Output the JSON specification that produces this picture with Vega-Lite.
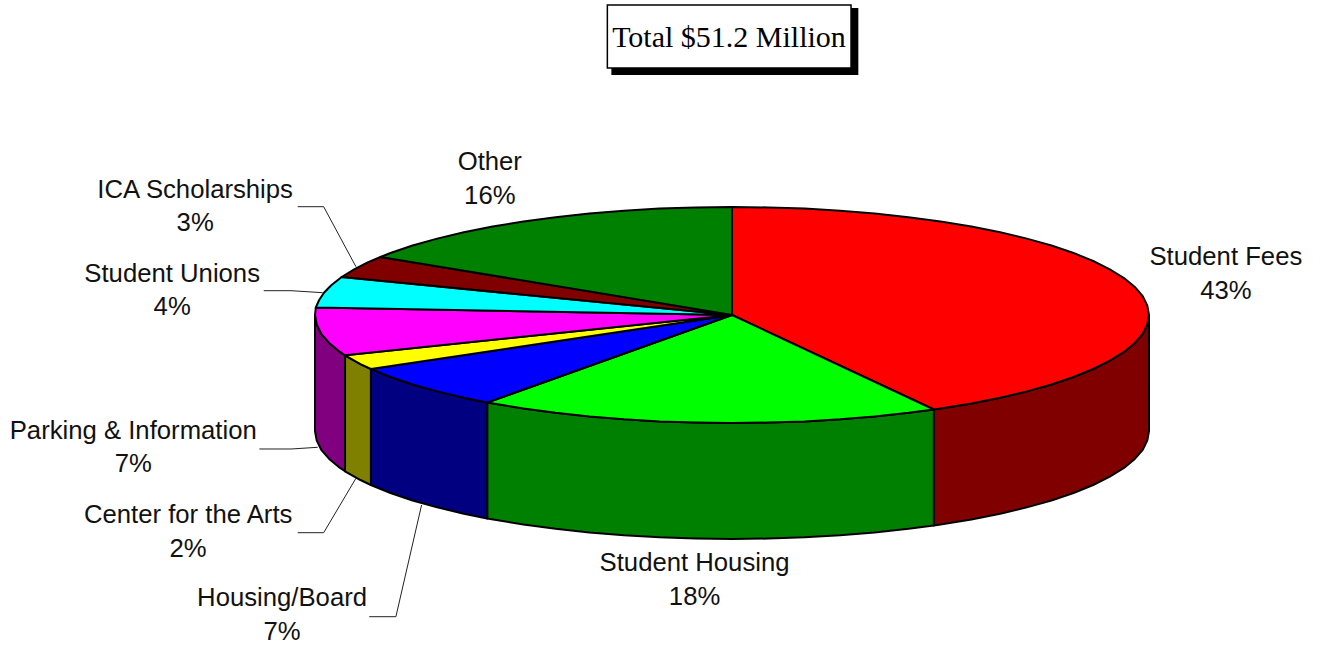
{"$schema":"https://vega.github.io/schema/vega-lite/v6.json","width":1324,"height":645,"padding":0,"autosize":{"type":"none"},"background":"white","config":{"view":{"stroke":null}},
"datasets":{
"outlines":[
{"part":"Student Fees side","x":1,"y":0},{"part":"Student Fees side","x":0.996,"y":-0.087},{"part":"Student Fees side","x":0.985,"y":-0.174},{"part":"Student Fees side","x":0.966,"y":-0.259},{"part":"Student Fees side","x":0.94,"y":-0.342},{"part":"Student Fees side","x":0.906,"y":-0.423},{"part":"Student Fees side","x":0.866,"y":-0.5},{"part":"Student Fees side","x":0.819,"y":-0.574},{"part":"Student Fees side","x":0.766,"y":-0.643},{"part":"Student Fees side","x":0.707,"y":-0.707},{"part":"Student Fees side","x":0.643,"y":-0.766},{"part":"Student Fees side","x":0.574,"y":-0.819},{"part":"Student Fees side","x":0.5,"y":-0.866},{"part":"Student Fees side","x":0.484,"y":-0.875},{"part":"Student Fees side","x":0.484,"y":-1.949},{"part":"Student Fees side","x":0.5,"y":-1.94},{"part":"Student Fees side","x":0.574,"y":-1.893},{"part":"Student Fees side","x":0.643,"y":-1.84},{"part":"Student Fees side","x":0.707,"y":-1.781},{"part":"Student Fees side","x":0.766,"y":-1.717},{"part":"Student Fees side","x":0.819,"y":-1.648},{"part":"Student Fees side","x":0.866,"y":-1.574},{"part":"Student Fees side","x":0.906,"y":-1.497},{"part":"Student Fees side","x":0.94,"y":-1.416},{"part":"Student Fees side","x":0.966,"y":-1.333},{"part":"Student Fees side","x":0.985,"y":-1.248},{"part":"Student Fees side","x":0.996,"y":-1.161},{"part":"Student Fees side","x":1,"y":-1.074},{"part":"Student Fees side","x":1,"y":0},
{"part":"Student Housing side","x":0.484,"y":-0.875},{"part":"Student Housing side","x":0.423,"y":-0.906},{"part":"Student Housing side","x":0.342,"y":-0.94},{"part":"Student Housing side","x":0.259,"y":-0.966},{"part":"Student Housing side","x":0.174,"y":-0.985},{"part":"Student Housing side","x":0.087,"y":-0.996},{"part":"Student Housing side","x":0,"y":-1},{"part":"Student Housing side","x":-0.087,"y":-0.996},{"part":"Student Housing side","x":-0.174,"y":-0.985},{"part":"Student Housing side","x":-0.259,"y":-0.966},{"part":"Student Housing side","x":-0.342,"y":-0.94},{"part":"Student Housing side","x":-0.423,"y":-0.906},{"part":"Student Housing side","x":-0.5,"y":-0.866},{"part":"Student Housing side","x":-0.587,"y":-0.811},{"part":"Student Housing side","x":-0.587,"y":-1.885},{"part":"Student Housing side","x":-0.5,"y":-1.94},{"part":"Student Housing side","x":-0.423,"y":-1.98},{"part":"Student Housing side","x":-0.342,"y":-2.014},{"part":"Student Housing side","x":-0.259,"y":-2.04},{"part":"Student Housing side","x":-0.174,"y":-2.059},{"part":"Student Housing side","x":-0.087,"y":-2.07},{"part":"Student Housing side","x":0,"y":-2.074},{"part":"Student Housing side","x":0.087,"y":-2.07},{"part":"Student Housing side","x":0.174,"y":-2.059},{"part":"Student Housing side","x":0.259,"y":-2.04},{"part":"Student Housing side","x":0.342,"y":-2.014},{"part":"Student Housing side","x":0.423,"y":-1.98},{"part":"Student Housing side","x":0.484,"y":-1.949},{"part":"Student Housing side","x":0.484,"y":-0.875},
{"part":"Housing/Board side","x":-0.587,"y":-0.811},{"part":"Housing/Board side","x":-0.643,"y":-0.766},{"part":"Housing/Board side","x":-0.707,"y":-0.707},{"part":"Housing/Board side","x":-0.766,"y":-0.643},{"part":"Housing/Board side","x":-0.819,"y":-0.574},{"part":"Housing/Board side","x":-0.866,"y":-0.5},{"part":"Housing/Board side","x":-0.866,"y":-1.574},{"part":"Housing/Board side","x":-0.819,"y":-1.648},{"part":"Housing/Board side","x":-0.766,"y":-1.717},{"part":"Housing/Board side","x":-0.707,"y":-1.781},{"part":"Housing/Board side","x":-0.643,"y":-1.84},{"part":"Housing/Board side","x":-0.587,"y":-1.885},{"part":"Housing/Board side","x":-0.587,"y":-0.811},
{"part":"Center for the Arts side","x":-0.866,"y":-0.5},{"part":"Center for the Arts side","x":-0.891,"y":-0.454},{"part":"Center for the Arts side","x":-0.928,"y":-0.373},{"part":"Center for the Arts side","x":-0.928,"y":-1.447},{"part":"Center for the Arts side","x":-0.891,"y":-1.528},{"part":"Center for the Arts side","x":-0.866,"y":-1.574},{"part":"Center for the Arts side","x":-0.866,"y":-0.5},
{"part":"Parking & Information side","x":-0.928,"y":-0.373},{"part":"Parking & Information side","x":-0.94,"y":-0.342},{"part":"Parking & Information side","x":-0.966,"y":-0.259},{"part":"Parking & Information side","x":-0.985,"y":-0.174},{"part":"Parking & Information side","x":-0.996,"y":-0.087},{"part":"Parking & Information side","x":-1,"y":0},{"part":"Parking & Information side","x":-1,"y":-1.074},{"part":"Parking & Information side","x":-0.996,"y":-1.161},{"part":"Parking & Information side","x":-0.985,"y":-1.248},{"part":"Parking & Information side","x":-0.966,"y":-1.333},{"part":"Parking & Information side","x":-0.94,"y":-1.416},{"part":"Parking & Information side","x":-0.928,"y":-1.447},{"part":"Parking & Information side","x":-0.928,"y":-0.373},
{"part":"Student Fees top","x":0,"y":0},{"part":"Student Fees top","x":0,"y":1},{"part":"Student Fees top","x":0.087,"y":0.996},{"part":"Student Fees top","x":0.174,"y":0.985},{"part":"Student Fees top","x":0.259,"y":0.966},{"part":"Student Fees top","x":0.342,"y":0.94},{"part":"Student Fees top","x":0.423,"y":0.906},{"part":"Student Fees top","x":0.5,"y":0.866},{"part":"Student Fees top","x":0.574,"y":0.819},{"part":"Student Fees top","x":0.643,"y":0.766},{"part":"Student Fees top","x":0.707,"y":0.707},{"part":"Student Fees top","x":0.766,"y":0.643},{"part":"Student Fees top","x":0.819,"y":0.574},{"part":"Student Fees top","x":0.866,"y":0.5},{"part":"Student Fees top","x":0.906,"y":0.423},{"part":"Student Fees top","x":0.94,"y":0.342},{"part":"Student Fees top","x":0.966,"y":0.259},{"part":"Student Fees top","x":0.985,"y":0.174},{"part":"Student Fees top","x":0.996,"y":0.087},{"part":"Student Fees top","x":1,"y":0},{"part":"Student Fees top","x":0.996,"y":-0.087},{"part":"Student Fees top","x":0.985,"y":-0.174},{"part":"Student Fees top","x":0.966,"y":-0.259},{"part":"Student Fees top","x":0.94,"y":-0.342},{"part":"Student Fees top","x":0.906,"y":-0.423},{"part":"Student Fees top","x":0.866,"y":-0.5},{"part":"Student Fees top","x":0.819,"y":-0.574},{"part":"Student Fees top","x":0.766,"y":-0.643},{"part":"Student Fees top","x":0.707,"y":-0.707},{"part":"Student Fees top","x":0.643,"y":-0.766},{"part":"Student Fees top","x":0.574,"y":-0.819},{"part":"Student Fees top","x":0.5,"y":-0.866},{"part":"Student Fees top","x":0.484,"y":-0.875},{"part":"Student Fees top","x":0,"y":0},
{"part":"Student Housing top","x":0,"y":0},{"part":"Student Housing top","x":0.484,"y":-0.875},{"part":"Student Housing top","x":0.423,"y":-0.906},{"part":"Student Housing top","x":0.342,"y":-0.94},{"part":"Student Housing top","x":0.259,"y":-0.966},{"part":"Student Housing top","x":0.174,"y":-0.985},{"part":"Student Housing top","x":0.087,"y":-0.996},{"part":"Student Housing top","x":0,"y":-1},{"part":"Student Housing top","x":-0.087,"y":-0.996},{"part":"Student Housing top","x":-0.174,"y":-0.985},{"part":"Student Housing top","x":-0.259,"y":-0.966},{"part":"Student Housing top","x":-0.342,"y":-0.94},{"part":"Student Housing top","x":-0.423,"y":-0.906},{"part":"Student Housing top","x":-0.5,"y":-0.866},{"part":"Student Housing top","x":-0.587,"y":-0.811},{"part":"Student Housing top","x":0,"y":0},
{"part":"Housing/Board top","x":0,"y":0},{"part":"Housing/Board top","x":-0.587,"y":-0.811},{"part":"Housing/Board top","x":-0.643,"y":-0.766},{"part":"Housing/Board top","x":-0.707,"y":-0.707},{"part":"Housing/Board top","x":-0.766,"y":-0.643},{"part":"Housing/Board top","x":-0.819,"y":-0.574},{"part":"Housing/Board top","x":-0.866,"y":-0.5},{"part":"Housing/Board top","x":0,"y":0},
{"part":"Center for the Arts top","x":0,"y":0},{"part":"Center for the Arts top","x":-0.866,"y":-0.5},{"part":"Center for the Arts top","x":-0.891,"y":-0.454},{"part":"Center for the Arts top","x":-0.928,"y":-0.373},{"part":"Center for the Arts top","x":0,"y":0},
{"part":"Parking & Information top","x":0,"y":0},{"part":"Parking & Information top","x":-0.928,"y":-0.373},{"part":"Parking & Information top","x":-0.94,"y":-0.342},{"part":"Parking & Information top","x":-0.966,"y":-0.259},{"part":"Parking & Information top","x":-0.985,"y":-0.174},{"part":"Parking & Information top","x":-0.996,"y":-0.087},{"part":"Parking & Information top","x":-1,"y":0},{"part":"Parking & Information top","x":-0.998,"y":0.07},{"part":"Parking & Information top","x":0,"y":0},
{"part":"Student Unions top","x":0,"y":0},{"part":"Student Unions top","x":-0.998,"y":0.07},{"part":"Student Unions top","x":-0.99,"y":0.139},{"part":"Student Unions top","x":-0.978,"y":0.208},{"part":"Student Unions top","x":-0.961,"y":0.276},{"part":"Student Unions top","x":-0.936,"y":0.352},{"part":"Student Unions top","x":0,"y":0},
{"part":"ICA Scholarships top","x":0,"y":0},{"part":"ICA Scholarships top","x":-0.936,"y":0.352},{"part":"ICA Scholarships top","x":-0.906,"y":0.423},{"part":"ICA Scholarships top","x":-0.875,"y":0.485},{"part":"ICA Scholarships top","x":-0.843,"y":0.537},{"part":"ICA Scholarships top","x":0,"y":0},
{"part":"Other top","x":0,"y":0},{"part":"Other top","x":-0.843,"y":0.537},{"part":"Other top","x":-0.819,"y":0.574},{"part":"Other top","x":-0.766,"y":0.643},{"part":"Other top","x":-0.707,"y":0.707},{"part":"Other top","x":-0.643,"y":0.766},{"part":"Other top","x":-0.574,"y":0.819},{"part":"Other top","x":-0.5,"y":0.866},{"part":"Other top","x":-0.423,"y":0.906},{"part":"Other top","x":-0.342,"y":0.94},{"part":"Other top","x":-0.259,"y":0.966},{"part":"Other top","x":-0.174,"y":0.985},{"part":"Other top","x":-0.087,"y":0.996},{"part":"Other top","x":0,"y":1},{"part":"Other top","x":0,"y":0}
],
"leaders":[
{"label":"ICA Scholarships","x":-1.0414,"y":1.0028},{"label":"ICA Scholarships","x":-0.9792,"y":1.0028},{"label":"ICA Scholarships","x":-0.9018,"y":0.4472},
{"label":"Student Unions","x":-1.1229,"y":0.225},{"label":"Student Unions","x":-1.0575,"y":0.225},{"label":"Student Unions","x":-0.9816,"y":0.2065},
{"label":"Parking & Information","x":-1.1334,"y":-1.2407},{"label":"Parking & Information","x":-1.0575,"y":-1.2407},{"label":"Parking & Information","x":-0.9935,"y":-1.225},
{"label":"Center for the Arts","x":-1.0414,"y":-2.0157},{"label":"Center for the Arts","x":-0.9792,"y":-2.0157},{"label":"Center for the Arts","x":-0.9018,"y":-1.512},
{"label":"Housing/Board","x":-0.8699,"y":-2.7935},{"label":"Housing/Board","x":-0.806,"y":-2.7935},{"label":"Housing/Board","x":-0.7444,"y":-1.7593}
],
"labels":[
{"label":"Student Fees","share":"43%","x":1.1868,"y":0.5463,"yShare":0.2315},
{"label":"Student Housing","share":"18%","x":-0.0874,"y":-2.287,"yShare":-2.6019},
{"label":"Housing/Board","share":"7%","x":-1.0766,"y":-2.6111,"yShare":-2.9259},
{"label":"Center for the Arts","share":"2%","x":-1.3018,"y":-1.8426,"yShare":-2.1574},
{"label":"Parking & Information","share":"7%","x":-1.4335,"y":-1.0648,"yShare":-1.3704},
{"label":"Student Unions","share":"4%","x":-1.3401,"y":0.3889,"yShare":0.0833},
{"label":"ICA Scholarships","share":"3%","x":-1.285,"y":1.1667,"yShare":0.8611},
{"label":"Other","share":"16%","x":-0.5784,"y":1.4259,"yShare":1.1111}
],
"box":[{"title":"Total $51.2 Million","x":-0.2989,"x2":0.2855,"y":2.8704,"y2":2.287,"sx":-0.2893,"sx2":0.303,"sy":2.8426,"sy2":2.2222,"cx":-0.0048,"cy":2.5556}]
},
"encoding":{
"x":{"field":"x","type":"quantitative","axis":null,"scale":{"domain":[-1.7554,1.4197],"nice":false,"zero":false}},
"y":{"field":"y","type":"quantitative","axis":null,"scale":{"domain":[-3.0556,2.9167],"nice":false,"zero":false}}
},
"layer":[
{"data":{"name":"box"},"mark":{"type":"rect","fill":"black"},"encoding":{"x":{"field":"sx","type":"quantitative"},"x2":{"field":"sx2"},"y":{"field":"sy","type":"quantitative"},"y2":{"field":"sy2"}}},
{"data":{"name":"box"},"mark":{"type":"rect","fill":"white","stroke":"black","strokeWidth":1.5},"encoding":{"x":{"field":"x","type":"quantitative"},"x2":{"field":"x2"},"y":{"field":"y","type":"quantitative"},"y2":{"field":"y2"}}},
{"data":{"name":"box"},"mark":{"type":"text","font":"Liberation Serif","fontSize":30,"align":"center","baseline":"middle","color":"black","dx":-1,"dy":-1},"encoding":{"x":{"field":"cx","type":"quantitative"},"y":{"field":"cy","type":"quantitative"},"text":{"field":"title"}}},
{"data":{"name":"leaders"},"mark":{"type":"line","stroke":"#222222","strokeWidth":1},"encoding":{"detail":{"field":"label"},"order":{"value":null}}},
{"data":{"name":"outlines"},"mark":{"type":"line","stroke":"black","strokeWidth":2,"strokeJoin":"round"},"encoding":{"detail":{"field":"part"},"order":{"value":null},
"fill":{"field":"part","type":"nominal","legend":null,"scale":{"domain":["Student Fees top","Student Housing top","Housing/Board top","Center for the Arts top","Parking & Information top","Student Unions top","ICA Scholarships top","Other top","Student Fees side","Student Housing side","Housing/Board side","Center for the Arts side","Parking & Information side"],"range":["#ff0000","#00ff00","#0000ff","#ffff00","#ff00ff","#00ffff","#800000","#008000","#800000","#008000","#000080","#808000","#800080"]}}}},
{"data":{"name":"labels"},"mark":{"type":"text","font":"Liberation Sans","fontSize":25.7,"align":"center","baseline":"middle","color":"#111111","dx":-1,"dy":1},"encoding":{"text":{"field":"label"}}},
{"data":{"name":"labels"},"mark":{"type":"text","font":"Liberation Sans","fontSize":25.7,"align":"center","baseline":"middle","color":"#111111","dx":-1,"dy":1},"encoding":{"y":{"field":"yShare","type":"quantitative"},"text":{"field":"share"}}}
]}
